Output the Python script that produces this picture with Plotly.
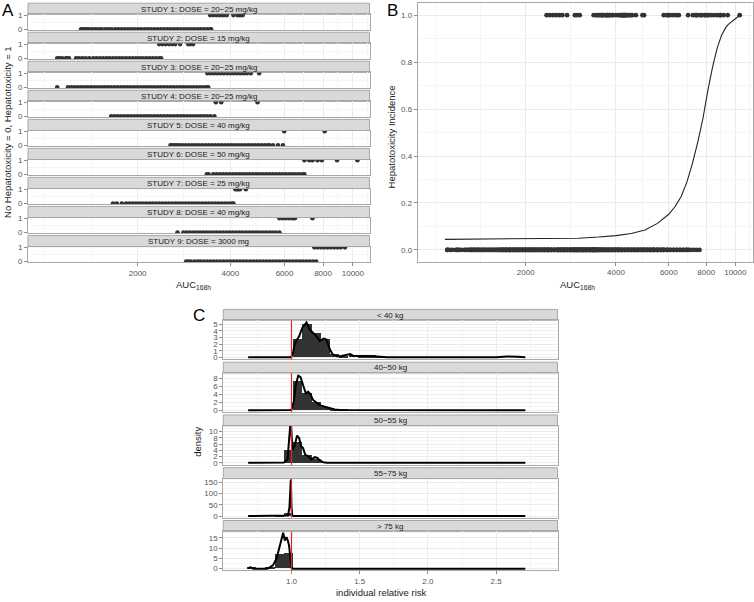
import plotly.graph_objects as go

# ============================ DATA ============================
# ---- Panel A: AUC168h per patient, by study, outcome 0 (no tox) / 1 (tox)
study_titles = [
    "STUDY 1: DOSE = 20\u221225 mg/kg",
    "STUDY 2: DOSE = 15 mg/kg",
    "STUDY 3: DOSE = 20\u221225 mg/kg",
    "STUDY 4: DOSE = 20\u221225 mg/kg",
    "STUDY 5: DOSE = 40 mg/kg",
    "STUDY 6: DOSE = 50 mg/kg",
    "STUDY 7: DOSE = 25 mg/kg",
    "STUDY 8: DOSE = 40 mg/kg",
    "STUDY 9: DOSE = 3000 mg",
]

s1_no = [1310, 1332, 1351, 1372, 1395, 1428, 1462, 1497, 1530, 1571, 1608, 1645, 1690, 1731,
         1772, 1818, 1862, 1910, 1955, 2006, 2052, 2105, 2158, 2210, 2266, 2321, 2380, 2441,
         2500, 2563, 2628, 2692, 2760, 2830, 2901, 2972, 3046, 3122, 3200, 3281, 3362, 3440, 3465]
s1_tox = [3439, 3520, 3605, 3690, 3760, 3817, 3897, 4092, 4213, 4270, 4330, 4391]

s2_no = [1096, 1115, 1137, 1170, 1183, 1197, 1262, 1290, 1322, 1355, 1392, 1435, 1470, 1508,
         1545, 1585, 1622, 1664, 1705, 1748, 1790, 1836, 1882, 1930, 1978, 2028, 2078, 2130,
         2184, 2240, 2296, 2352, 2384]
s2_tox = [2349, 2405, 2466, 2528, 2590, 2650, 2748, 2918, 2970, 3029]

s3_no = [1096, 1188, 1218, 1248, 1279, 1311, 1345, 1378, 1412, 1448, 1484, 1521, 1560, 1598,
         1638, 1680, 1722, 1765, 1808, 1854, 1900, 1948, 1996, 2047, 2098, 2150, 2204, 2258,
         2315, 2373, 2432, 2493, 2556, 2620, 2685, 2752, 2822, 2892, 2964, 3038, 3115, 3192,
         3272, 3350, 3390]
s3_tox = [3370, 3452, 3538, 3626, 3716, 3810, 3905, 4002, 4102, 4205, 4310, 4418, 4528, 4662, 4962]

s4_no = [1641, 1680, 1722, 1766, 1812, 1858, 1905, 1952, 2001, 2050, 2100, 2152, 2206, 2262,
         2318, 2376, 2436, 2497, 2560, 2624, 2690, 2757, 2826, 2897, 2970, 3044, 3120, 3198,
         3278, 3360, 3445, 3550]
s4_tox = [3589, 3737, 4903]

s5_no = [2558, 2590, 2640, 2680, 2730, 2790, 2860, 2932, 3005, 3080, 3157, 3236, 3317, 3400,
         3485, 3572, 3661, 3753, 3847, 3943, 4042, 4143, 4246, 4352, 4461, 4573, 4687, 4804,
         4924, 5047, 5173, 5302, 5347, 5502, 5712, 5928]
s5_tox = [5985, 8102]

s6_no = [3356, 3400, 3520, 3608, 3698, 3790, 3885, 3982, 4082, 4184, 4289, 4396, 4506, 4618,
         4734, 4852, 4973, 5098, 5225, 5356, 5490, 5627, 5768, 5912, 6060, 6212, 6367, 6526,
         6690, 6857, 6960]
s6_tox = [6960, 7220, 7400, 7680, 7930, 8884, 10346]

s7_no = [1663, 1711, 1777, 1835, 1880, 1928, 1976, 2025, 2076, 2128, 2181, 2236, 2292, 2349,
         2408, 2468, 2530, 2593, 2658, 2724, 2793, 2862, 2934, 3007, 3082, 3160, 3239, 3320,
         3403, 3488, 3575, 3664, 3756, 3850, 3946, 4045, 4092]
s7_tox = [4153, 4200, 4250, 4300, 4491]

s8_no = [2694, 2816, 2886, 2958, 3032, 3108, 3186, 3265, 3347, 3431, 3516, 3604, 3694, 3787,
         3881, 3978, 4078, 4180, 4284, 4391, 4501, 4614, 4729, 4847, 4968, 5093, 5220, 5351,
         5484, 5621, 5774]
s8_tox = [5774, 5918, 6066, 6218, 6373, 6482, 7392]

s9_no = [2874, 2920, 2975, 3060, 3140, 3200, 3280, 3362, 3446, 3532, 3620, 3711, 3804, 3899,
         3996, 4096, 4198, 4303, 4411, 4521, 4634, 4750, 4869, 4990, 5115, 5243, 5374, 5508,
         5646, 5787, 5932, 6080, 6232, 6388, 6548, 6711, 6879, 7051, 7227, 7408, 7596]
s9_tox = [7500, 7688, 7880, 8077, 8279, 8486, 8698, 8916, 9139, 9430]

studies_no = [s1_no, s2_no, s3_no, s4_no, s5_no, s6_no, s7_no, s8_no, s9_no]
studies_tox = [s1_tox, s2_tox, s3_tox, s4_tox, s5_tox, s6_tox, s7_tox, s8_tox, s9_tox]

auc_ticks = [2000, 4000, 6000, 8000, 10000]
auc_minor = [1000, 1414, 2828, 4899, 6928, 8944, 11180]

# ---- Panel B: fitted incidence curve
curve_auc = [1076, 1500, 2000, 2500, 3000, 3500, 4000, 4500, 5000, 5500, 6000, 6300, 6600,
             6900, 7200, 7500, 7800, 8100, 8400, 8700, 9000, 9300, 9500, 10350]
curve_prob = [0.045, 0.046, 0.047, 0.048, 0.050, 0.055, 0.061, 0.070, 0.085, 0.113, 0.152,
              0.185, 0.228, 0.29, 0.37, 0.46, 0.56, 0.68, 0.78, 0.86, 0.915, 0.948, 0.962, 1.0]
incid_ticks = [0.0, 0.2, 0.4, 0.6, 0.8, 1.0]

# ---- Panel C: individual relative risk by weight group
weight_groups = ["< 40 kg", "40\u221250 kg", "50\u221255 kg", "55\u221275 kg", "> 75 kg"]
bin_centers = [0.709, 0.777, 0.845, 0.912, 0.980, 1.048, 1.115, 1.183, 1.251, 1.318, 1.386,
               1.454, 1.521, 1.589, 1.657]
bin_width = 0.0677
hist_lt40 = [0, 0, 0, 0, 0, 2.7, 5.0, 3.6, 2.7, 0.4, 0.2, 0.35, 0.2, 0.25, 0.15]
hist_40_50 = [0, 0, 0, 0, 0, 7.4, 4.3, 2.0, 0.8, 0.3, 0.1, 0.05, 0.05, 0.05, 0.05]
hist_50_55 = [0, 0, 0, 0, 4.0, 6.8, 2.6, 1.2, 0.2, 0, 0, 0, 0, 0, 0]
hist_55_75 = [0, 0, 0, 0.4, 13.5, 0.6, 0, 0, 0, 0, 0, 0, 0, 0, 0]
hist_gt75 = [0.5, 0, 0.2, 7.0, 7.3, 0, 0, 0, 0, 0, 0, 0, 0, 0, 0]
hists = [hist_lt40, hist_40_50, hist_50_55, hist_55_75, hist_gt75]

dens_lt40_x = [0.682, 0.95, 0.998, 1.012, 1.024, 1.041, 1.056, 1.08, 1.11, 1.134, 1.158, 1.183,
               1.207, 1.237, 1.256, 1.28, 1.30, 1.33, 1.36, 1.43, 1.45, 1.55, 1.60, 1.70, 1.80,
               2.0, 2.3, 2.5, 2.58, 2.62, 2.66, 2.714]
dens_lt40_y = [0, 0, 0, 0.8, 2.0, 2.7, 3.2, 4.5, 5.3, 4.2, 3.7, 3.2, 2.5, 2.85, 2.7, 1.25, 0.5,
               0.15, 0.15, 0.5, 0.25, 0.25, 0.15, 0.03, 0.02, 0.01, 0.01, 0.03, 0.12, 0.15, 0.08, 0.02]
dens_40_50_x = [0.682, 0.95, 0.999, 1.017, 1.031, 1.049, 1.066, 1.085, 1.105, 1.122, 1.139,
                1.158, 1.183, 1.207, 1.244, 1.28, 1.317, 1.354, 1.5, 1.7, 1.9, 2.0, 2.1, 2.4, 2.714]
dens_40_50_y = [0, 0, 0.05, 2.2, 6.3, 8.7, 8.4, 6.3, 4.25, 4.7, 4.0, 2.6, 1.9, 1.3, 0.9, 0.5,
                0.2, 0.05, 0.03, 0.05, 0.12, 0.15, 0.1, 0.03, 0.02]
dens_50_55_x = [0.682, 0.92, 0.945, 0.971, 0.983, 0.99, 0.997, 1.007, 1.022, 1.041, 1.056, 1.07,
                1.085, 1.1, 1.122, 1.146, 1.171, 1.19, 1.207, 1.232, 1.26, 1.4, 2.714]
dens_50_55_y = [0, 0, 0.1, 1.05, 6.3, 11.6, 11.6, 4.2, 5.3, 8.7, 7.9, 5.3, 4.7, 2.6, 2.1, 1.05,
                1.8, 1.6, 0.8, 0.2, 0.02, 0, 0]
dens_55_75_x = [0.682, 0.93, 0.96, 0.975, 0.985, 0.99, 0.995, 1.0, 1.006, 1.02, 2.714]
dens_55_75_y = [0, 0, 0.5, 2.5, 40, 163, 163, 40, 2, 0, 0]
dens_gt75_x = [0.682, 0.69, 0.70, 0.72, 0.82, 0.841, 0.865, 0.89, 0.909, 0.927, 0.939, 0.951,
               0.963, 0.973, 0.982, 0.992, 1.0, 1.01, 2.714]
dens_gt75_y = [0, 0.5, 0.6, 0, 0, 0.6, 1.7, 4.9, 9.7, 14.5, 17.4, 13.7, 15.3, 13.7, 11.3, 5,
               0.5, 0, 0]
dens_x = [dens_lt40_x, dens_40_50_x, dens_50_55_x, dens_55_75_x, dens_gt75_x]
dens_y = [dens_lt40_y, dens_40_50_y, dens_50_55_y, dens_55_75_y, dens_gt75_y]

c_yticks = [[0, 1, 2, 3, 4, 5], [0, 2, 4, 6, 8], [0, 2, 4, 6, 8, 10], [0, 50, 100, 150], [0, 5, 10, 15]]
c_yminor = [[0.5, 1.5, 2.5, 3.5, 4.5, 5.5], [1, 3, 5, 7, 9], [1, 3, 5, 7, 9, 11], [25, 75, 125],
            [2.5, 7.5, 12.5, 17.5]]
c_yranges = [[-0.3, 5.62], [-0.46, 9.4], [-0.65, 11.8], [-7, 167], [-0.87, 18.1]]
risk_ticks = [1.0, 1.5, 2.0, 2.5]
risk_minor = [0.75, 1.25, 1.75, 2.25, 2.75]
reference_risk = 1.0

# ============================ STYLE / LAYOUT ============================
W, H = 754, 602
FONT = "Liberation Sans, Arial, Helvetica, sans-serif"
TICKFONT = dict(family=FONT, size=8, color="#555555")
GRID, MINOR, BORDER = "#ebebeb", "#f5f5f5", "#a8a8a8"
STRIP_FILL = "#d9d9d9"
PT = "#333333"


def px_x(px):
    return px / W


def px_y(py):
    return 1 - py / H


def axis_base():
    return dict(showline=True, mirror=True, linecolor=BORDER, linewidth=1, zeroline=False,
                showgrid=True, gridcolor=GRID, gridwidth=1, tickfont=TICKFONT,
                ticks="outside", ticklen=3, tickcolor="#8c8c8c", tickwidth=1)


def aname(n, kind):
    return f"{kind}axis" if n == 1 else f"{kind}axis{n}"


def aref(n, kind):
    return kind if n == 1 else f"{kind}{n}"


fig = go.Figure()
layout = {}
shapes = []
annotations = []


def add_strip(x0, x1, top, bottom, text):
    shapes.append(dict(type="rect", xref="paper", yref="paper", x0=px_x(x0), x1=px_x(x1),
                       y0=px_y(bottom), y1=px_y(top), fillcolor=STRIP_FILL,
                       line=dict(color=BORDER, width=1), layer="below"))
    annotations.append(dict(xref="paper", yref="paper", x=px_x((x0 + x1) / 2),
                            y=px_y((top + bottom) / 2 + 0.3), text=text, showarrow=False,
                            xanchor="center", yanchor="middle",
                            font=dict(family=FONT, size=8, color="#1a1a1a")))


# ---------------- Panel A ----------------
A_X0, A_X1 = 28, 369.5
for i in range(9):
    n = i + 1
    top = 11.5 + i * 29.375
    bot = top + 15.75
    xs = studies_no[i] + studies_tox[i]
    ys = [0] * len(studies_no[i]) + [1] * len(studies_tox[i])
    fig.add_trace(go.Scatter(x=xs, y=ys, mode="markers",
                             marker=dict(size=4.6, color=PT, line=dict(width=0)),
                             xaxis=aref(n, "x"), yaxis=aref(n, "y"), showlegend=False))
    xa = axis_base()
    xa.update(type="log", range=[2.945, 4.054], domain=[px_x(A_X0), px_x(A_X1)],
              anchor=aref(n, "y"), tickmode="array", tickvals=auc_ticks,
              ticktext=[str(v) for v in auc_ticks],
              minor=dict(tickmode="array", tickvals=auc_minor, showgrid=True,
                         gridcolor=MINOR, ticks=""))
    if i < 8:
        xa.update(showticklabels=False, ticks="")
    ya = axis_base()
    ya.update(range=[-0.05, 1.05], domain=[px_y(bot), px_y(top)], anchor=aref(n, "x"),
              tickmode="array", tickvals=[0, 1], ticktext=["0", "1"],
              minor=dict(tickmode="array", tickvals=[0.5], showgrid=True, gridcolor=MINOR, ticks=""))
    layout[aname(n, "x")] = xa
    layout[aname(n, "y")] = ya
    add_strip(A_X0, A_X1, top - 11.3, top, study_titles[i])

# ---------------- Panel B ----------------
nb = 10
b_no = [v for s in studies_no for v in s]
b_tox = [v for s in studies_tox for v in s]
fig.add_trace(go.Scatter(x=b_no + b_tox, y=[0] * len(b_no) + [1] * len(b_tox), mode="markers",
                         marker=dict(size=4.8, color=PT, line=dict(width=0)),
                         xaxis=aref(nb, "x"), yaxis=aref(nb, "y"), showlegend=False))
fig.add_trace(go.Scatter(x=curve_auc, y=curve_prob, mode="lines",
                         line=dict(color="#222222", width=1.1),
                         xaxis=aref(nb, "x"), yaxis=aref(nb, "y"), showlegend=False))
xb = axis_base()
xb.update(type="log", range=[2.941, 4.059], domain=[px_x(417.7), px_x(753)], anchor=aref(nb, "y"),
          tickmode="array", tickvals=auc_ticks, ticktext=[str(v) for v in auc_ticks],
          minor=dict(tickmode="array", tickvals=auc_minor, showgrid=True, gridcolor=MINOR, ticks=""))
yb = axis_base()
yb.update(range=[-0.05, 1.05], domain=[px_y(261.7), px_y(0.5)], anchor=aref(nb, "x"),
          tickmode="array", tickvals=incid_ticks, ticktext=[f"{v:.1f}" for v in incid_ticks],
          minor=dict(tickmode="array", tickvals=[0.1, 0.3, 0.5, 0.7, 0.9], showgrid=True,
                     gridcolor=MINOR, ticks=""))
layout[aname(nb, "x")] = xb
layout[aname(nb, "y")] = yb

# ---------------- Panel C ----------------
C_X0, C_X1 = 223.3, 557.5
for k in range(5):
    n = 11 + k
    top = 321 + k * 53.4
    bot = top + 39.5
    fig.add_trace(go.Bar(x=bin_centers, y=hists[k], width=bin_width,
                         marker=dict(color="#333333", line=dict(width=0)),
                         xaxis=aref(n, "x"), yaxis=aref(n, "y"), showlegend=False))
    fig.add_trace(go.Scatter(x=dens_x[k], y=dens_y[k], mode="lines",
                             line=dict(color="black", width=2),
                             xaxis=aref(n, "x"), yaxis=aref(n, "y"), showlegend=False))
    xc = axis_base()
    xc.update(range=[0.5, 2.95], domain=[px_x(C_X0), px_x(C_X1)], anchor=aref(n, "y"),
              tickmode="array", tickvals=risk_ticks, ticktext=[f"{v:.1f}" for v in risk_ticks],
              minor=dict(tickmode="array", tickvals=risk_minor, showgrid=True,
                         gridcolor=MINOR, ticks=""))
    if k < 4:
        xc.update(showticklabels=False, ticks="")
    yc = axis_base()
    yc.update(range=c_yranges[k], domain=[px_y(bot), px_y(top)], anchor=aref(n, "x"),
              tickmode="array", tickvals=c_yticks[k], ticktext=[str(v) for v in c_yticks[k]],
              minor=dict(tickmode="array", tickvals=c_yminor[k], showgrid=True,
                         gridcolor=MINOR, ticks=""))
    layout[aname(n, "x")] = xc
    layout[aname(n, "y")] = yc
    add_strip(C_X0, C_X1, top - 11, top, weight_groups[k])
    shapes.append(dict(type="line", xref=aref(n, "x"), yref=aref(n, "y") + " domain",
                       x0=reference_risk, x1=reference_risk, y0=0, y1=1,
                       line=dict(color="#e8262a", width=1.2), layer="above"))

# ---------------- Titles & panel letters ----------------
TITLEFONT = dict(family=FONT, size=9.5, color="#222222")
annotations += [
    dict(xref="paper", yref="paper", x=px_x(193), y=px_y(285), text="AUC<sub>168h</sub>",
         showarrow=False, xanchor="center", yanchor="middle", font=TITLEFONT),
    dict(xref="paper", yref="paper", x=px_x(577), y=px_y(285), text="AUC<sub>168h</sub>",
         showarrow=False, xanchor="center", yanchor="middle", font=TITLEFONT),
    dict(xref="paper", yref="paper", x=px_x(7.5), y=px_y(131),
         text="No Hepatotoxicity = 0, Hepatotoxicity = 1", textangle=-90,
         showarrow=False, xanchor="center", yanchor="middle", font=TITLEFONT),
    dict(xref="paper", yref="paper", x=px_x(391), y=px_y(136),
         text="Hepatotoxicity Incidence", textangle=-90,
         showarrow=False, xanchor="center", yanchor="middle", font=TITLEFONT),
    dict(xref="paper", yref="paper", x=px_x(198), y=px_y(444), text="density", textangle=-90,
         showarrow=False, xanchor="center", yanchor="middle", font=TITLEFONT),
    dict(xref="paper", yref="paper", x=px_x(382), y=px_y(596), text="individual relative risk",
         showarrow=False, xanchor="center", yanchor="middle", font=TITLEFONT),
    dict(xref="paper", yref="paper", x=px_x(7.5), y=px_y(8), text="A", showarrow=False,
         xanchor="center", yanchor="middle", font=dict(family=FONT, size=17, color="black")),
    dict(xref="paper", yref="paper", x=px_x(392), y=px_y(8), text="B", showarrow=False,
         xanchor="center", yanchor="middle", font=dict(family=FONT, size=17, color="black")),
    dict(xref="paper", yref="paper", x=px_x(199), y=px_y(316), text="C", showarrow=False,
         xanchor="center", yanchor="middle", font=dict(family=FONT, size=17, color="black")),
]

fig.update_layout(
    width=W, height=H, autosize=False,
    margin=dict(l=0, r=0, t=0, b=0, pad=0),
    paper_bgcolor="white", plot_bgcolor="white",
    barmode="overlay", bargap=0,
    showlegend=False,
    shapes=shapes, annotations=annotations,
    font=dict(family=FONT, size=8, color="#555555"),
    **layout,
)

fig.write_html(
    "out.html",
    config={"displayModeBar": False},
    post_script="document.body.style.margin='0px';document.body.style.padding='0px';"
                "document.documentElement.style.overflow='hidden';",
)
